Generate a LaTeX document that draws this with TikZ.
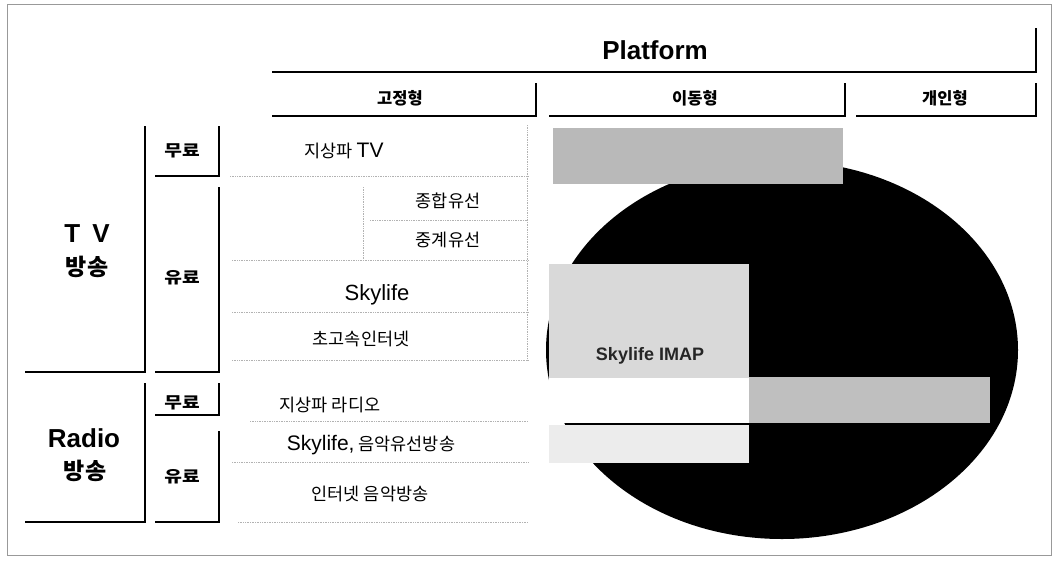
\documentclass[tikz,border=0pt]{standalone}
\usepackage{fontspec}
\setmainfont{Noto Sans CJK KR}
\newfontfamily\krw{Noto Sans CJK KR}[FakeStretch=1.2]
\newfontfamily\lat{Liberation Sans}
\begin{document}
\begin{tikzpicture}[x=1pt,y=-1pt,
  rule/.style={line width=1.3pt,black},
  dots/.style={gray!60,densely dotted,line width=0.7pt},
  hd/.style={font=\krw\fontsize{16}{16}\selectfont\bfseries},
  colhd/.style={font=\fontsize{16.5}{17}\selectfont\bfseries},
  ent/.style={font=\fontsize{17.5}{18}\selectfont},
  biglat/.style={font=\lat\fontsize{26}{26}\selectfont\bfseries},
  bigkr/.style={font=\fontsize{23}{23}\selectfont\bfseries},
  ]
\useasboundingbox (0,0) rectangle (1057,562);
\draw[gray!80,line width=0.7pt] (7,4) rectangle (1051,555);

% header
\draw[rule] (272,72) -- (1036,72) -- (1036,28);
\node[biglat] (plat) at (655,50) {Platform};
\draw[rule] (272,116) -- (536,116) -- (536,83);
\draw[rule] (549,116) -- (845,116) -- (845,83);
\draw[rule] (856,116) -- (1036,116) -- (1036,83);
\node[colhd] (fix) at (400,98) {고정형};
\node[colhd] (mob) at (695,98) {이동형};
\node[colhd] (per) at (945,98) {개인형};

% left column boxes
\draw[rule] (25,372) -- (145,372) -- (145,126);
\draw[rule] (155,176) -- (219,176) -- (219,126);
\draw[rule] (155,372) -- (219,372) -- (219,187);
\draw[rule] (25,522) -- (145,522) -- (145,383);
\draw[rule] (155,415) -- (219,415) -- (219,383);
\draw[rule] (155,522) -- (219,522) -- (219,431);
\node[biglat] (tv) at (87,234) {T\kern12pt V};
\node[bigkr] (tvb) at (87,267) {방송};
\node[biglat] (radio) at (84,438) {Radio};
\node[bigkr] (radiob) at (85,471) {방송};
\node[hd] (tvfree) at (182,151) {무료};
\node[hd] (tvpay) at (182,278) {유료};
\node[hd] (rfree) at (182,403) {무료};
\node[hd] (rpay) at (182,477) {유료};

% middle column
\draw[dots] (230,176) -- (528,176);
\draw[dots] (363,187) -- (363,260);
\draw[dots] (370,220) -- (528,220);
\draw[dots] (232,260) -- (528,260);
\draw[dots] (232,312) -- (528,312);
\draw[dots] (232,360) -- (528,360);
\draw[dots] (250,421) -- (528,421);
\draw[dots] (232,462) -- (528,462);
\draw[dots] (238,522) -- (528,522);
\draw[dots] (527,125) -- (527,360);
\node[ent] (e1) at (344,151) {지상파 {\lat\fontsize{21}{21}\selectfont TV}};
\node[ent] (e2) at (448,201) {종합유선};
\node[ent] (e3) at (448,240) {중계유선};
\node[ent] (e4) at (377,295) {\lat\fontsize{22}{22}\selectfont Skylife};
\node[ent] (e5) at (361,339) {초고속인터넷};
\node[ent] (e6) at (330,405) {지상파 라디오};
\node[ent] (e7) at (371,445) {{\lat\fontsize{21}{21}\selectfont Skylife,} 음악유선방송};
\node[ent] (e8) at (370,494) {인터넷 음악방송};

% right: ellipse and overlays
\fill[black] (782,350) ellipse [x radius=236pt, y radius=189pt];
\fill[gray!55] (553,128) rectangle (843,184);
\fill[gray!30] (549,264) rectangle (749,378);
\fill[white] (549,378) rectangle (749,423);
\fill[gray!15] (549,425) rectangle (749,463);
\fill[gray!50] (749,377) rectangle (990,423);
\node[font=\lat\fontsize{18}{18}\selectfont\bfseries,text=black!85] (imap) at (650,356) {Skylife IMAP};
\end{tikzpicture}
\end{document}
